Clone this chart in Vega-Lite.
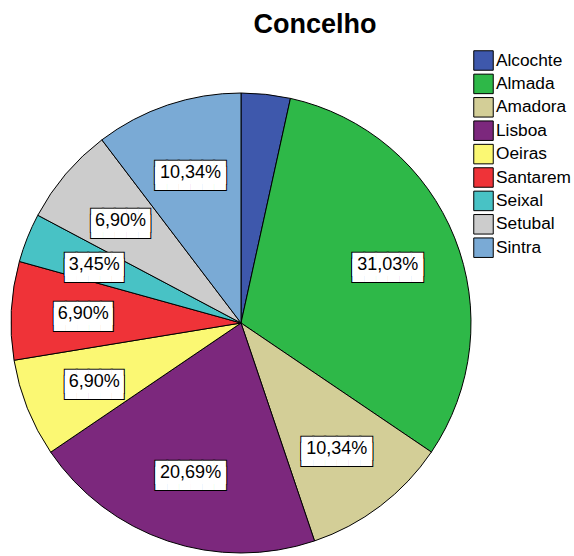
{
  "$schema": "https://vega.github.io/schema/vega-lite/v6.json",
  "width": 460,
  "height": 460,
  "autosize": {"type": "none"},
  "padding": {"left": 11, "top": 93, "right": 103, "bottom": 3},
  "background": "white",
  "title": {"text": "Concelho", "fontSize": 27, "font": "Liberation Sans", "fontWeight": "bold", "color": "black", "anchor": "middle", "dx": 74, "offset": 11},
  "data": {"values": [
    {"Concelho": "Alcochte", "pct": 3.45, "label": ""},
    {"Concelho": "Almada", "pct": 31.03, "label": "31,03%"},
    {"Concelho": "Amadora", "pct": 10.34, "label": "10,34%"},
    {"Concelho": "Lisboa", "pct": 20.69, "label": "20,69%"},
    {"Concelho": "Oeiras", "pct": 6.90, "label": "6,90%"},
    {"Concelho": "Santarem", "pct": 6.90, "label": "6,90%"},
    {"Concelho": "Seixal", "pct": 3.45, "label": "3,45%"},
    {"Concelho": "Setubal", "pct": 6.90, "label": "6,90%"},
    {"Concelho": "Sintra", "pct": 10.34, "label": "10,34%"}
  ]},
  "encoding": {
    "theta": {"field": "pct", "type": "quantitative", "stack": true},
    "order": {"field": "Concelho", "type": "ordinal", "sort": "ascending"},
    "detail": {"field": "Concelho", "type": "nominal"}
  },
  "layer": [
    {
      "mark": {"type": "arc", "stroke": "black", "strokeWidth": 1},
      "encoding": {
        "color": {
          "field": "Concelho", "type": "nominal",
          "scale": {
            "domain": ["Alcochte", "Almada", "Amadora", "Lisboa", "Oeiras", "Santarem", "Seixal", "Setubal", "Sintra"],
            "range": ["#3E58AC", "#2EB848", "#D3CE97", "#7C287D", "#FBF873", "#EF3338", "#48C2C5", "#CCCCCC", "#7AAAD5"]
          },
          "legend": {
            "title": null, "orient": "none", "legendX": 462, "legendY": -43,
            "symbolType": "square", "symbolSize": 380, "symbolStrokeColor": "black", "symbolStrokeWidth": 1,
            "symbolOpacity": 1,
            "labelFont": "Liberation Sans", "labelFontSize": 17.3, "labelColor": "black", "labelOffset": 2,
            "labelLimit": 120,
            "rowPadding": -1.6
          }
        }
      }
    },
    {
      "mark": {"type": "text", "radius": 158, "font": "DejaVu Sans Mono", "fontSize": 19.5, "lineHeight": 6, "baseline": "middle", "align": "center", "fill": "black", "stroke": "black", "strokeWidth": 2},
      "encoding": {
        "text": {"condition": [{"test": "datum.label == ''", "value": ""}, {"test": "datum.pct >= 10", "value": ["██████", "██████"]}], "value": ["█████", "█████"]}
      }
    },
    {
      "mark": {"type": "text", "radius": 158, "font": "DejaVu Sans Mono", "fontSize": 19.5, "lineHeight": 6, "baseline": "middle", "align": "center", "fill": "white"},
      "encoding": {
        "text": {"condition": [{"test": "datum.label == ''", "value": ""}, {"test": "datum.pct >= 10", "value": ["██████", "██████"]}], "value": ["█████", "█████"]}
      }
    },
    {
      "mark": {"type": "text", "radius": 158, "font": "Liberation Sans", "fontSize": 18, "baseline": "middle", "align": "center", "fill": "black"},
      "encoding": {
        "text": {"field": "label", "type": "nominal"}
      }
    }
  ]
}
